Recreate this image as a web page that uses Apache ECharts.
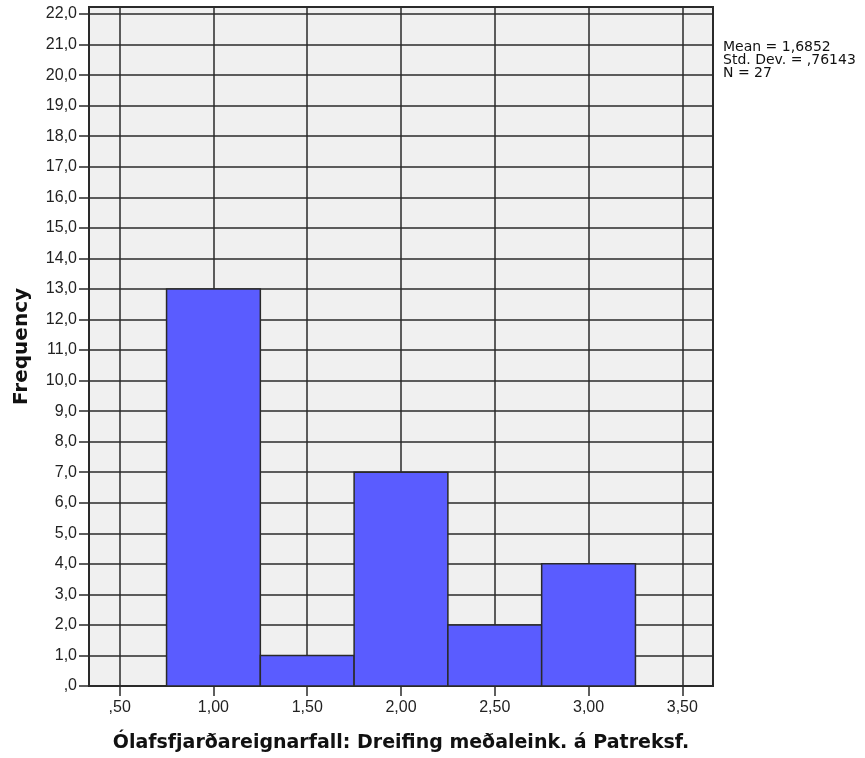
<!DOCTYPE html>
<html>
<head>
<meta charset="utf-8">
<script src="https://cdn.jsdelivr.net/npm/echarts@6/dist/echarts.min.js"></script>
<style>html,body{margin:0;padding:0;background:#fff;}#c{width:865px;height:758px;}</style>
</head>
<body>
<div id="c"></div>
<script>
const binStarts = [0.75, 1.25, 1.75, 2.25, 2.75];
const binEnds   = [1.25, 1.75, 2.25, 2.75, 3.25];
const frequencies = [13, 1, 7, 2, 4];
const xTickValues = [0.5, 1.0, 1.5, 2.0, 2.5, 3.0, 3.5];
const yTickValues = [0,1,2,3,4,5,6,7,8,9,10,11,12,13,14,15,16,17,18,19,20,21,22];
const statsLines = ['Mean = 1,6852', 'Std. Dev. = ,76143', 'N = 27'];
const xTitle = 'Ólafsfjarðareignarfall: Dreifing meðaleink. á Patreksf.';
const yTitle = 'Frequency';

const TICK_FONT = 'Liberation Sans';
const TITLE_FONT = 'DejaVu Sans';
const fmtY = v => { let s = v.toFixed(1).replace('.', ','); if (s.startsWith('0,')) s = s.slice(1); return s; };
const fmtX = v => { let s = v.toFixed(2).replace('.', ','); if (s.startsWith('0,')) s = s.slice(1); return s; };

const data = binStarts.map((s, i) => [s, binEnds[i], frequencies[i]]);

const lineColor = '#2a2a2a';
const lw = 1.5;
const chart = echarts.init(document.getElementById('c'), null, {renderer: 'canvas'});
chart.setOption({
  animation: false,
  backgroundColor: '#ffffff',
  grid: {left: 89, right: 152, top: 7, bottom: 71, show: true, backgroundColor: '#f0f0f0', borderColor: lineColor, borderWidth: 2},
  xAxis: {
    type: 'value', min: 0.3365, max: 3.6635,
    name: xTitle, nameLocation: 'middle', nameGap: 48,
    nameTextStyle: {fontFamily: TITLE_FONT, fontWeight: 'bold', fontSize: 19, color: '#111', verticalAlign: 'top'},
    axisLine: {show: true, onZero: false, lineStyle: {color: lineColor, width: 2}},
    axisTick: {show: true, length: 10, customValues: xTickValues, lineStyle: {color: lineColor, width: lw}},
    axisLabel: {customValues: xTickValues, formatter: fmtX, margin: 14, fontFamily: TICK_FONT, fontSize: 16, color: '#222'},
    splitLine: {show: true, lineStyle: {color: lineColor, width: lw}}
  },
  yAxis: {
    type: 'value', min: 0, max: 22.23,
    name: yTitle, nameLocation: 'middle', nameGap: 57,
    nameTextStyle: {fontFamily: TITLE_FONT, fontWeight: 'bold', fontSize: 20, color: '#111'},
    axisLine: {show: true, lineStyle: {color: lineColor, width: 2}},
    axisTick: {show: true, length: 10, customValues: yTickValues, lineStyle: {color: lineColor, width: lw}},
    axisLabel: {customValues: yTickValues, formatter: fmtY, margin: 12, fontFamily: TICK_FONT, fontSize: 16, color: '#222'},
    splitLine: {show: true, lineStyle: {color: lineColor, width: lw}}
  },
  graphic: [{
    type: 'text', left: 723, top: 40,
    style: {text: statsLines.join('\n'), font: '14px "DejaVu Sans"', lineHeight: 13, fill: '#111'}
  }],
  series: [{
    type: 'custom',
    data: data,
    encode: {x: [0, 1], y: 2},
    renderItem: function (params, api) {
      const p0 = api.coord([api.value(0), api.value(2)]);
      const p1 = api.coord([api.value(1), 0]);
      return {
        type: 'rect',
        shape: {x: p0[0], y: p0[1], width: p1[0] - p0[0], height: p1[1] - p0[1]},
        style: {fill: '#5a5cff', stroke: lineColor, lineWidth: lw}
      };
    }
  }]
});
</script>
</body>
</html>
